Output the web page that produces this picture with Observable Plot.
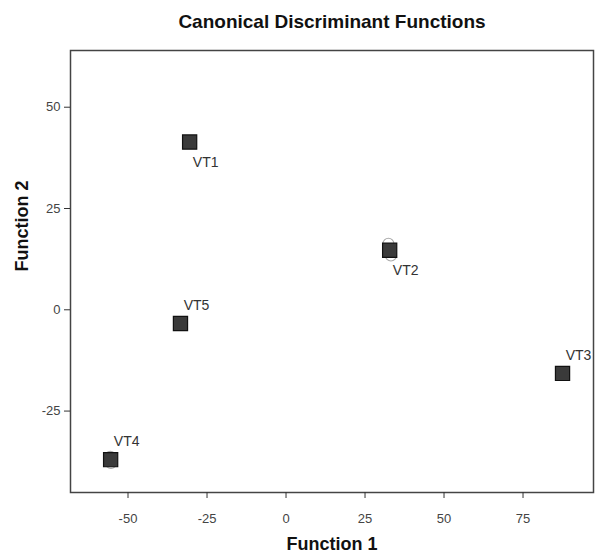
<!DOCTYPE html>
<html><head><meta charset="utf-8">
<script src="https://cdn.jsdelivr.net/npm/d3@7"></script>
<script src="https://cdn.jsdelivr.net/npm/@observablehq/plot@0.6"></script>
<style>
body{margin:0;background:#fff}
g[aria-label="title"] text{letter-spacing:1.6px}
g[aria-label="xlabel"] text, g[aria-label="ylabel"] text{letter-spacing:0.9px}
</style>
</head><body><div id="chart"></div>
<script>
const groups = ["VT1", "VT2", "VT3", "VT4", "VT5"];
const f1 = [-30.5, 32.8, 87.5, -55.5, -33.4];
const f2 = [41.4, 14.7, -15.7, -37.0, -3.4];
const labelPos = ["below", "below", "above", "above", "above"];
const caseF1 = [32.4, 33.2, -55.6, -55.4];
const caseF2 = [16.3, 13.4, -36.3, -37.8];
const xTicks = [-50, -25, 0, 25, 50, 75];
const yTicks = [-25, 0, 25, 50];
const title = "Canonical Discriminant Functions";

const centroids = groups.map((g, i) => ({g, x: f1[i], y: f2[i], pos: labelPos[i]}));
const cases = caseF1.map((x, i) => ({x, y: caseF2[i]}));
const fmt = d => String(d);

const chart = Plot.plot({
  width: 595, height: 554,
  marginLeft: 70, marginRight: 2, marginTop: 50, marginBottom: 62,
  style: {fontFamily: "'Liberation Sans', Arial, sans-serif", fontSize: "13px", color: "#333", background: "#fff"},
  x: {domain: [-68.2, 97.3]},
  y: {domain: [-45.1, 64.0]},
  marks: [
    Plot.frame({stroke: "#444", strokeWidth: 1.5}),
    Plot.axisX({ticks: xTicks, tickFormat: fmt, tickSize: 6, tickPadding: 15, fontSize: 13, stroke: "#333", fill: "#444", label: null}),
    Plot.axisY({ticks: yTicks, tickFormat: fmt, tickSize: 6, tickPadding: 4, fontSize: 13, stroke: "#333", fill: "#444", label: null}),
    Plot.text(["Function 1"], {frameAnchor: "bottom", dy: 57, fontWeight: "bold", fontSize: 18, fill: "#111", ariaLabel: "xlabel"}),
    Plot.text(["Function 2"], {frameAnchor: "left", dx: -48, rotate: -90, fontWeight: "bold", fontSize: 18, fill: "#111", ariaLabel: "ylabel"}),
    Plot.text([title], {frameAnchor: "top", dy: -36, fontWeight: "bold", fontSize: 19, fill: "#111", ariaLabel: "title"}),
    Plot.dot(cases, {x: "x", y: "y", r: 5.5, stroke: "#aaa", strokeWidth: 1.2, fill: "none"}),
    Plot.dot(centroids, {x: "x", y: "y", symbol: "square", r: 8, fill: "#3a3a3a", stroke: "#111", strokeWidth: 1.2}),
    Plot.text(centroids.filter(d => d.pos === "below"), {x: "x", y: "y", text: "g", dx: 16, dy: 20, fontSize: 14, fill: "#333"}),
    Plot.text(centroids.filter(d => d.pos === "above"), {x: "x", y: "y", text: "g", dx: 16, dy: -18, fontSize: 14, fill: "#333"})
  ]
});
document.getElementById("chart").append(chart);
</script>
</body></html>
